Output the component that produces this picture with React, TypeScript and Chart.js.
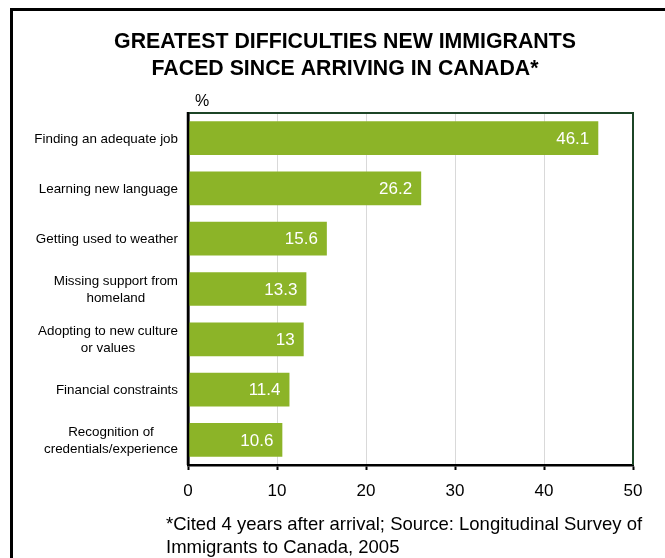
import React, { useEffect, useRef } from "react";
import { Chart, registerables } from "chart.js";

Chart.register(...registerables);

const categories: string[][] = [
  ["Finding an adequate job"],
  ["Learning new language"],
  ["Getting used to weather"],
  ["Missing support from", "homeland"],
  ["Adopting to new culture", "or values"],
  ["Financial constraints"],
  ["Recognition of", "credentials/experience"],
];
const values: number[] = [46.1, 26.2, 15.6, 13.3, 13, 11.4, 10.6];
const titleLines: string[] = [
  "GREATEST DIFFICULTIES NEW IMMIGRANTS",
  "FACED SINCE ARRIVING IN CANADA*",
];
const unitLabel = "%";
const footnoteLines: string[] = [
  "*Cited 4 years after arrival; Source: Longitudinal Survey of",
  "Immigrants to Canada, 2005",
];

const FONT = "'Liberation Sans', Arial, sans-serif";
const BAR = "#8cb428";
const FRAME_GREEN = "#1c4526";

export default function App() {
  const ref = useRef<HTMLCanvasElement | null>(null);

  useEffect(() => {
    if (!ref.current) return;
    const deco = {
      id: "deco",
      afterDatasetsDraw(chart: any) {
        const ctx = chart.ctx;
        const meta = chart.getDatasetMeta(0);
        ctx.save();
        ctx.fillStyle = "#ffffff";
        ctx.font = `17px ${FONT}`;
        ctx.textAlign = "right";
        ctx.textBaseline = "middle";
        meta.data.forEach((el: any, i: number) => {
          ctx.fillText(String(values[i]), el.x - 9, el.y + 1);
        });
        ctx.restore();
      },
      afterDraw(chart: any) {
        const ctx = chart.ctx;
        const a = chart.chartArea;
        const ys = chart.scales.y;
        ctx.save();
        ctx.strokeStyle = FRAME_GREEN;
        ctx.lineWidth = 2;
        ctx.beginPath();
        ctx.moveTo(a.left, a.top);
        ctx.lineTo(a.right, a.top);
        ctx.lineTo(a.right, a.bottom);
        ctx.stroke();
        ctx.strokeStyle = "#000";
        ctx.lineWidth = 2.5;
        ctx.beginPath();
        ctx.moveTo(a.left, a.top - 1);
        ctx.lineTo(a.left, a.bottom);
        ctx.stroke();

        ctx.fillStyle = "#000";
        ctx.font = `13.4px ${FONT}`;
        ctx.textBaseline = "middle";
        ctx.textAlign = "center";
        const lh = 17;
        categories.forEach((lines, i) => {
          const cy = ys.getPixelForTick(i);
          const w = Math.max(...lines.map((l) => ctx.measureText(l).width));
          const cx = 178 - w / 2;
          lines.forEach((l, k) => {
            ctx.fillText(l, cx, cy - ((lines.length - 1) * lh) / 2 + k * lh + 1);
          });
        });

        ctx.font = `bold 21.3px ${FONT}`;
        ctx.textAlign = "center";
        titleLines.forEach((t, k) => ctx.fillText(t, 345, 42 + k * 27));

        ctx.font = `16px ${FONT}`;
        ctx.fillText(unitLabel, 202, 102);

        ctx.font = `18.5px ${FONT}`;
        ctx.textAlign = "left";
        footnoteLines.forEach((t, k) => ctx.fillText(t, 166, 525 + k * 23));
        ctx.restore();
      },
    };

    const chart = new Chart(ref.current, {
      type: "bar",
      data: {
        labels: categories.map((c) => c.join(" ")),
        datasets: [
          {
            data: values,
            backgroundColor: BAR,
            borderWidth: 0,
            barPercentage: 0.67,
            categoryPercentage: 1,
          },
        ],
      },
      options: {
        indexAxis: "y",
        responsive: false,
        animation: false,
        devicePixelRatio: 1,
        layout: { padding: { top: 113, right: 32, left: 0, bottom: 53 } },
        plugins: {
          legend: { display: false },
          tooltip: { enabled: false },
          title: { display: false },
        },
        scales: {
          x: {
            min: 0,
            max: 50,
            ticks: {
              stepSize: 10,
              color: "#000",
              font: { family: FONT, size: 17 },
              padding: 11,
            },
            grid: {
              color: "#d9d9d9",
              lineWidth: 1,
              tickColor: "#000",
              tickLength: 5,
              tickWidth: 2,
            },
            border: { display: true, color: "#000", width: 2.5 },
            afterFit: (s: any) => {
              s.height = 40;
            },
          },
          y: {
            ticks: { display: false },
            grid: { display: false },
            border: { display: true, color: "#000", width: 2.5 },
            afterFit: (s: any) => {
              s.width = 188;
            },
          },
        },
      },
      plugins: [deco],
    } as any);
    return () => chart.destroy();
  }, []);

  return (
    <>
      <div
        style={{
          position: "fixed",
          left: 10,
          top: 8,
          width: 655,
          height: 550,
          boxSizing: "border-box",
          borderTop: "3px solid #000",
          borderLeft: "3px solid #000",
        }}
      />
      <canvas
        ref={ref}
        width={665}
        height={558}
        style={{ position: "fixed", left: 0, top: 0, width: 665, height: 558 }}
      />
    </>
  );
}
